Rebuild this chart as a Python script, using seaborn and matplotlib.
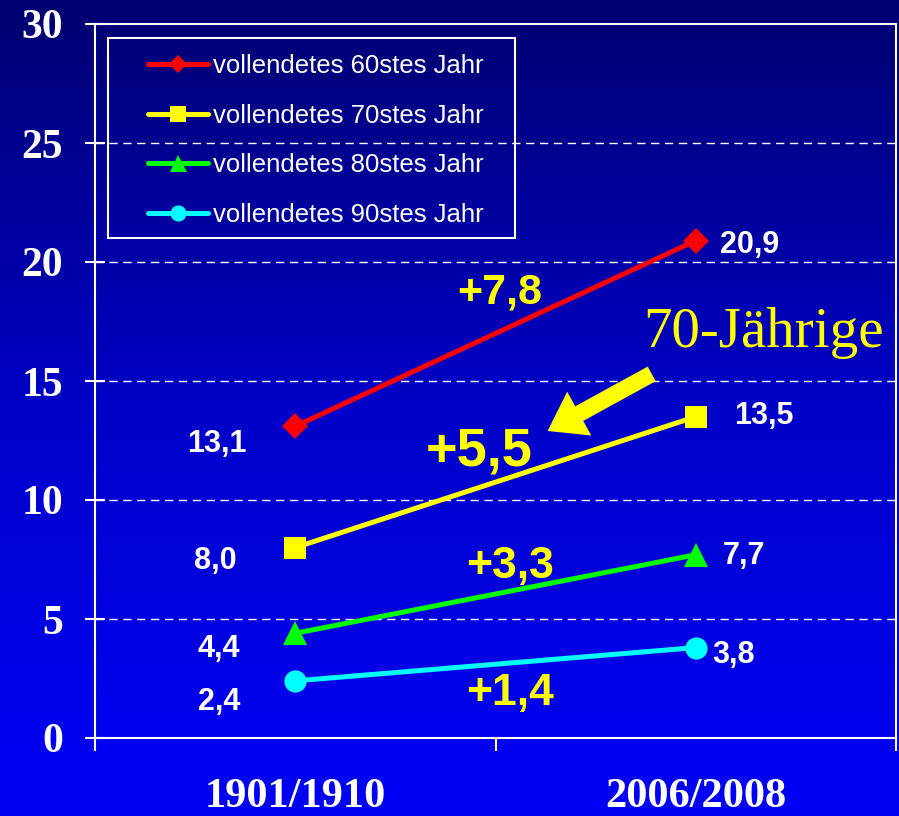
import numpy as np
import pandas as pd
import matplotlib
matplotlib.use("Agg")
import matplotlib.pyplot as plt
import seaborn as sns
from matplotlib.colors import LinearSegmentedColormap
from matplotlib.patches import Rectangle

# ---- data ----
periods = ["1901/1910", "2006/2008"]
series_names = ["vollendetes 60stes Jahr", "vollendetes 70stes Jahr",
                "vollendetes 80stes Jahr", "vollendetes 90stes Jahr"]
values_1901 = [13.1, 8.0, 4.4, 2.4]
values_2006 = [20.9, 13.5, 7.7, 3.8]
value_labels_1901 = ["13,1", "8,0", "4,4", "2,4"]
value_labels_2006 = ["20,9", "13,5", "7,7", "3,8"]
diff_labels = ["+7,8", "+5,5", "+3,3", "+1,4"]
y_ticks = [0, 5, 10, 15, 20, 25, 30]

colors = ["#FF0000", "#FFFF00", "#00FF00", "#00FFFF"]
markers = ["D", "s", "^", "o"]
msizes = [13, 16, 17, 16]

x_pos = [0.5, 1.5]
rows = []
for name, a, b in zip(series_names, values_1901, values_2006):
    rows.append({"series": name, "x": x_pos[0], "value": a})
    rows.append({"series": name, "x": x_pos[1], "value": b})
df = pd.DataFrame(rows)

sns.set_theme(style="white")
plt.rcParams["font.family"] = ["Liberation Sans", "DejaVu Sans"]

fig = plt.figure(figsize=(8.99, 8.16), dpi=100)

# gradient background
bg = fig.add_axes([0, 0, 1, 1], zorder=-10)
grad = np.linspace(0, 1, 256).reshape(-1, 1)
cmap = LinearSegmentedColormap.from_list("bg", ["#000070", "#0000C8", "#0000F8"])
bg.imshow(grad, aspect="auto", cmap=cmap, extent=[0, 1, 0, 1], origin="upper")
bg.axis("off")

ax = fig.add_axes([95/899, 1 - 738/816, 801/899, 714/816])
ax.set_facecolor("none")

for name, c, m, ms in zip(series_names, colors, markers, msizes):
    sub = df[df["series"] == name]
    sns.lineplot(data=sub, x="x", y="value", ax=ax, color=c, marker=m,
                 markersize=ms, markeredgewidth=0, linewidth=3.6, label=name,
                 zorder=5)

ax.set_xlim(0, 2)
ax.set_ylim(0, 30)
ax.set_xlabel("")
ax.set_ylabel("")

# y ticks
ax.set_yticks(y_ticks)
ax.set_yticklabels([str(t) for t in y_ticks], family="Liberation Serif",
                   fontweight="bold", fontsize=30, color="white")
ax.tick_params(axis="y", left=True, direction="inout", length=14, width=1.5,
               color="white", pad=16)
# x ticks
ax.set_xticks([0, 1, 2])
ax.set_xticklabels([])
ax.tick_params(axis="x", which="major", bottom=True, direction="out",
               length=9, width=1.5, color="white")
ax.set_xticks(x_pos, minor=True)
ax.set_xticklabels(periods, minor=True, family="Liberation Serif",
                   fontweight="bold", fontsize=30.5, color="white")
ax.tick_params(axis="x", which="minor", bottom=True, length=0, pad=29)

for s in ax.spines.values():
    s.set_color("white")
    s.set_linewidth(1.5)

for yv in y_ticks[1:-1]:
    ax.axhline(yv, color="white", lw=1, ls=(0, (6, 4)), zorder=1)

# value labels
left_offsets = [(-0.195, -0.73), (-0.2, -0.55), (-0.19, -0.65), (-0.19, -0.9)]
right_offsets = [(0.135, -0.2), (0.17, 0.05), (0.12, -0.05), (0.095, -0.3)]
for v, lab, (dx, dy) in zip(values_1901, value_labels_1901, left_offsets):
    ax.text(x_pos[0] + dx, v + dy, lab, color="white", fontsize=22,
            fontweight="bold", ha="center", va="center")
for v, lab, (dx, dy) in zip(values_2006, value_labels_2006, right_offsets):
    ax.text(x_pos[1] + dx, v + dy, lab, color="white", fontsize=22,
            fontweight="bold", ha="center", va="center")

# difference labels
diff_pos = [(1.01, 18.7), (0.96, 12.05), (1.037, 7.22), (1.037, 1.87)]
diff_sizes = [31, 39, 32, 32]
for lab, (px, py), fs in zip(diff_labels, diff_pos, diff_sizes):
    ax.text(px, py, lab, color="#FFFF00", fontsize=fs, fontweight="bold",
            ha="center", va="center", zorder=6)

# 70-Jährige annotation with arrow
ax.text(1.67, 17.0, "70-Jährige", family="Liberation Serif", fontsize=41,
        color="#FFFF00", ha="center", va="center")
ax.annotate("", xy=(1.13, 12.9), xytext=(1.39, 15.3),
            arrowprops=dict(arrowstyle="simple,head_length=1.3,head_width=1.8,tail_width=0.6",
                            color="#FFFF00", lw=0, shrinkA=0, shrinkB=0,
                            mutation_scale=20))

# legend frame (drawn as a box in axes coordinates)
ax.add_patch(Rectangle((13/801, 500/714), 407/801, 200/714,
                       transform=ax.transAxes, fill=False, edgecolor="white",
                       linewidth=1.5, zorder=9))
leg = ax.legend(loc="upper left", bbox_to_anchor=(53/801, 684/714),
                fontsize=18.5, frameon=False, handlelength=2.33,
                handletextpad=0.2, labelspacing=1.0, borderpad=0,
                borderaxespad=0, markerscale=0.72, labelcolor="white")
leg.set_zorder(10)

fig.savefig("out.png", dpi=100)
